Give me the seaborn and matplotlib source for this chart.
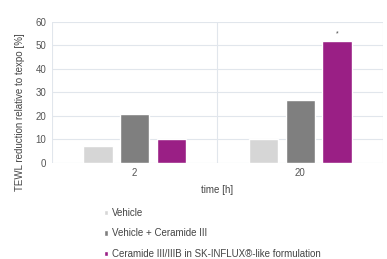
import matplotlib
matplotlib.use("Agg")
import matplotlib.pyplot as plt
import seaborn as sns
import pandas as pd

times = ["2", "20"]
series = ["Vehicle", "Vehicle + Ceramide III", "Ceramide III/IIIB in SK-INFLUX®-like formulation"]
vehicle = [7, 10]
vehicle_cer = [21, 27]
ceramide = [10, 52]
colors = ["#d6d6d6", "#7f7f7f", "#9a1f85"]

rows = []
for s, vals in zip(series, [vehicle, vehicle_cer, ceramide]):
    for t, v in zip(times, vals):
        rows.append({"time": t, "series": s, "value": v})
df = pd.DataFrame(rows)

sns.set_style("white")
plt.rcParams["font.family"] = ["Liberation Sans", "DejaVu Sans"]

fig = plt.figure(figsize=(3.87, 2.59), dpi=100)
ax = fig.add_axes([0.134, 0.371, 0.856, 0.544])
sns.barplot(data=df, x="time", y="value", hue="series", order=times, hue_order=series,
            palette=colors, width=0.664, gap=0.2, ax=ax, saturation=1, legend=True)

ax.set_ylim(0, 60)
ax.set_xlim(-0.5, 1.5)
ax.set_yticks(range(0, 61, 10))
grid_c = "#e1e6ec"
for y in range(10, 61, 10):
    ax.axhline(y, color=grid_c, lw=0.8, zorder=0)
for x in [-0.5, 0.5, 1.5]:
    ax.axvline(x, color=grid_c, lw=0.8, zorder=0)
ax.axhline(0, color="#d9dde2", lw=0.8, zorder=0)
for sp in ax.spines.values():
    sp.set_visible(False)
ax.tick_params(axis="both", length=0, labelsize=7, colors="#555555", pad=4)
ax.set_xlabel("time [h]", fontsize=7, color="#444444", labelpad=5)
ax.set_ylabel("TEWL reduction relative to texpo [%]", fontsize=7, color="#444444")
ax.yaxis.set_label_coords(-0.08, 0.36)

# significance marker above the Ceramide bar at 20 h
bars = [p for p in ax.patches if p.get_height() > 0]
top = max(bars, key=lambda p: p.get_height())
ax.text(top.get_x() + top.get_width() / 2, top.get_height() + 1.5, "*",
        ha="center", va="bottom", fontsize=5, color="#444444")

leg = ax.legend(loc="upper left", bbox_to_anchor=(0.145, -0.29), frameon=False,
                fontsize=7, handlelength=0.45, handleheight=0.45, handletextpad=0.35,
                labelspacing=1.1, borderaxespad=0)
for t in leg.get_texts():
    t.set_color("#444444")

fig.savefig("out.png", dpi=100, facecolor="white")
